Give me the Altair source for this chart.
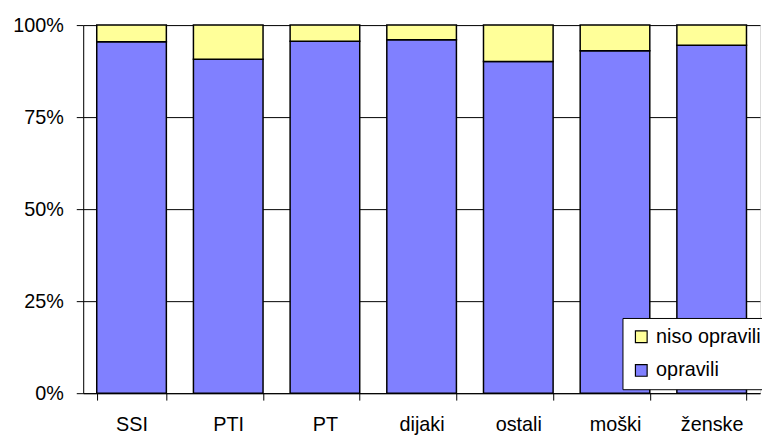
import altair as alt
import pandas as pd

categories = ["SSI", "PTI", "PT", "dijaki", "ostali", "moški", "ženske"]
opravili = [95.5, 90.7, 95.6, 96.0, 90.1, 93.0, 94.5]
niso_opravili = [4.5, 9.3, 4.4, 4.0, 9.9, 7.0, 5.5]

rows = []
for c, a, b in zip(categories, opravili, niso_opravili):
    rows.append({"cat": c, "series": "opravili", "value": a / 100, "ord": 0})
    rows.append({"cat": c, "series": "niso opravili", "value": b / 100, "ord": 1})
df = pd.DataFrame(rows)

FONT = "Liberation Sans"
FS = 20

chart = alt.Chart(df).mark_bar(stroke="black", strokeWidth=1.5).encode(
    x=alt.X("cat:N", sort=categories, title=None,
            scale=alt.Scale(paddingInner=0.28, paddingOuter=0.14),
            axis=alt.Axis(labelAngle=0, tickBand="extent", domainColor="black",
                          tickColor="black", tickSize=7, labelFontSize=FS,
                          labelFont=FONT, labelColor="black", labelPadding=15,
                          grid=False)),
    y=alt.Y("value:Q", stack="zero", title=None,
            scale=alt.Scale(domain=[0, 1]),
            axis=alt.Axis(values=[0, 0.25, 0.5, 0.75, 1], format=".0%",
                          grid=True, gridColor="black", gridOpacity=1,
                          domainColor="black", tickColor="black", tickSize=7,
                          labelFontSize=FS, labelFont=FONT, labelColor="black",
                          labelPadding=13)),
    color=alt.Color("series:N",
                    scale=alt.Scale(domain=["niso opravili", "opravili"],
                                    range=["#FFFF99", "#8080FF"]),
                    legend=alt.Legend(title=None, orient="none", legendX=545, legendY=296,
                                      symbolType="square", symbolSize=140,
                                      symbolStrokeColor="black", symbolStrokeWidth=1.2,
                                      labelFontSize=20, labelFont=FONT, labelColor="black",
                                      strokeColor="black", fillColor="white",
                                      padding=9, rowPadding=14, labelOffset=5)),
    order=alt.Order("ord:Q"),
).properties(
    width=684, height=372,
    autosize=alt.AutoSizeParams(type="none"),
    padding={"left": 76, "top": 15, "right": 2, "bottom": 40},
).configure_view(stroke=None).configure(background="white")

chart.save("out.html", embed_options={"renderer": "svg", "actions": False})
